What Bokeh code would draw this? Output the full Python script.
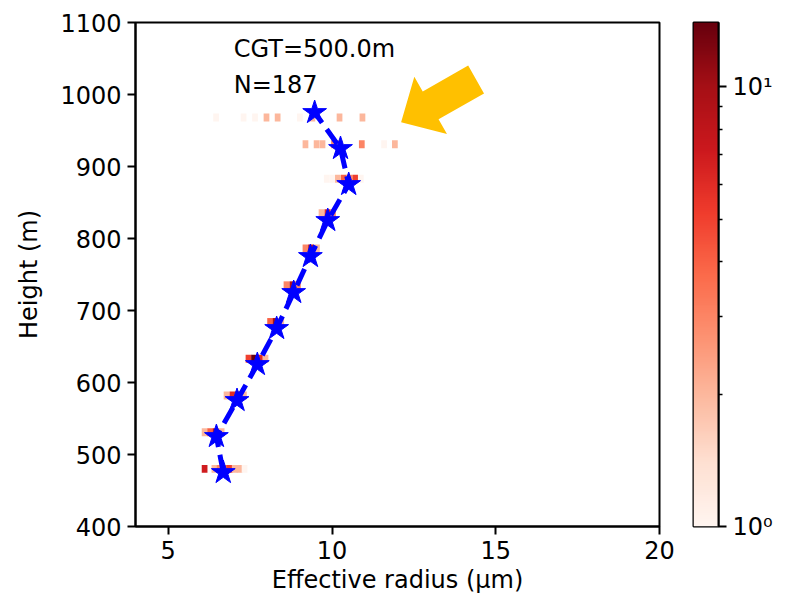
import numpy as np
from bokeh.plotting import figure
from bokeh.layouts import row
from bokeh.models import Range1d, LogColorMapper, FixedTicker, Label, ColumnDataSource
from bokeh.palettes import Reds256
from bokeh.embed import file_html
from bokeh.resources import INLINE

# ---------------- data ----------------
HEIGHTS = [475, 525, 575, 625, 675, 725, 775, 825, 875, 925, 975]
MEAN_RE = [6.68, 6.47, 7.10, 7.72, 8.31, 8.83, 9.34, 9.87, 10.51, 10.26, 9.47]

CELL_X = [
    6.46, 7.30, 7.65, 8.00, 8.34, 9.02, 9.40, 10.23, 10.93,
    9.19, 9.53, 9.71, 10.06, 10.23, 10.91, 11.59, 11.92,
    9.84, 10.01, 10.18, 10.36, 10.53, 10.71, 10.88,
    9.68, 9.86, 10.03,
    9.19, 9.36, 9.54,
    8.61, 8.79, 8.96,
    8.11, 8.28, 8.45,
    7.45, 7.62, 7.80, 7.97,
    6.78, 6.96, 7.13, 7.31,
    6.11, 6.28, 6.45, 6.63,
    6.11, 6.41, 6.57, 6.72, 6.88, 7.03, 7.18, 7.33,
]
CELL_Y = (
    [968] * 9 + [931] * 8 + [883] * 7 + [835] * 3 + [786] * 3 + [735] * 3
    + [684] * 3 + [633] * 4 + [582] * 4 + [531] * 4 + [480] * 8
)
CELL_N = [
    1, 1, 1, 2, 2, 1, 2, 2, 2,
    2, 2, 2, 3, 2, 3, 1, 2,
    1, 1, 2, 4, 3, 5, 1,
    2, 6, 3,
    3, 8, 2,
    3, 9, 3,
    4, 10, 2,
    5, 14, 6, 2,
    2, 6, 9, 2,
    2, 4, 8, 2,
    7, 2, 3, 4, 5, 2, 2, 1,
]
COUNT_RANGE = (1, 14)

X_TICKS = [5, 10, 15, 20]
Y_TICKS = [400, 500, 600, 700, 800, 900, 1000, 1100]
CB_TICKS = [1, 10]
CB_MINOR = [2, 3, 4, 5, 6, 7, 8, 9]
CB_LABELS = {1: "10\u2070", 10: "10\u00b9"}

CGT_TEXT = "CGT=500.0m"
N_TEXT = "N=187"
TEXT_X = 7
TEXT_Y = [1050, 1000]

# annotation arrow (data coords of tip / tail)
ARROW_TIP = (12.11, 961.5)
ARROW_TAIL = (14.40, 1020.8)

# ---------------- styling ----------------
FONT = "DejaVu Sans"
FS = "24px"
XR = (4, 20)
YR = (400, 1100)
FW, FH = 524, 504

pal = list(Reds256)
def _lum(h):
    return int(h[1:3], 16) + int(h[3:5], 16) + int(h[5:7], 16)
if _lum(pal[0]) < _lum(pal[-1]):
    pal = pal[::-1]
mapper = LogColorMapper(palette=pal, low=COUNT_RANGE[0], high=COUNT_RANGE[1])

p = figure(
    x_range=Range1d(*XR), y_range=Range1d(*YR),
    frame_width=FW, frame_height=FH,
    min_border_left=135, min_border_right=20, min_border_top=22, min_border_bottom=76,
    output_backend="svg", toolbar_location=None,
    x_axis_label="Effective radius (\u03bcm)", y_axis_label="Height (m)",
)
p.grid.visible = False
p.outline_line_color = "black"
p.outline_line_width = 2
p.background_fill_color = "white"
p.border_fill_color = "white"

for ax in (p.xaxis[0], p.yaxis[0]):
    ax.axis_line_color = "black"
    ax.axis_line_width = 2
    ax.major_tick_line_color = "black"
    ax.major_tick_line_width = 2
    ax.major_tick_out = 8
    ax.major_tick_in = 0
    ax.minor_tick_line_color = None
    ax.major_label_text_font = FONT
    ax.major_label_text_font_size = FS
    ax.major_label_text_color = "black"
    ax.axis_label_text_font = FONT
    ax.axis_label_text_font_size = FS
    ax.axis_label_text_font_style = "normal"
    ax.axis_label_text_color = "black"
    ax.major_label_standoff = 6

p.xaxis[0].ticker = FixedTicker(ticks=X_TICKS)
p.yaxis[0].ticker = FixedTicker(ticks=Y_TICKS)
p.xaxis[0].axis_label_standoff = 4
p.yaxis[0].axis_label_standoff = 14

# 2D histogram cells
src = ColumnDataSource(dict(x=CELL_X, y=CELL_Y, n=CELL_N))
p.rect(x="x", y="y", width=0.175, height=11, source=src,
       fill_color={"field": "n", "transform": mapper}, line_color=None)

# mean profile
p.line(MEAN_RE, HEIGHTS, line_color="blue", line_width=5, line_dash="18 8")
p.scatter(MEAN_RE, HEIGHTS, marker="star", size=25, fill_color="blue", line_color="blue")

# texts
for txt, yy in zip((CGT_TEXT, N_TEXT), TEXT_Y):
    p.add_layout(Label(x=TEXT_X, y=yy, y_offset=10, text=txt, text_font=FONT,
                       text_font_size=FS, text_baseline="alphabetic",
                       text_align="left", text_color="black"))

# arrow polygon
sx = FW / (XR[1] - XR[0])
sy = FH / (YR[1] - YR[0])
def to_px(x, y):
    return np.array([(x - XR[0]) * sx, (YR[1] - y) * sy])
def to_data(pt):
    return XR[0] + pt[0] / sx, YR[1] - pt[1] / sy
tip = to_px(*ARROW_TIP)
tail = to_px(*ARROW_TAIL)
u = (tail - tip) / np.linalg.norm(tail - tip)
nrm = np.array([-u[1], u[0]])
HEAD_LEN, HEAD_HALF, SHAFT_HALF = 34, 33, 16
base = tip + u * HEAD_LEN
pts = [tip, base + nrm * HEAD_HALF, base + nrm * SHAFT_HALF, tail + nrm * SHAFT_HALF,
       tail - nrm * SHAFT_HALF, base - nrm * SHAFT_HALF, base - nrm * HEAD_HALF]
dpts = [to_data(q) for q in pts]
p.patch([q[0] for q in dpts], [q[1] for q in dpts], fill_color="#FFC000", line_color=None)

# ---------------- colorbar ----------------
cb = figure(
    x_range=Range1d(0, 1), y_range=Range1d(*COUNT_RANGE), y_axis_type="log",
    y_axis_location="right",
    frame_width=25, frame_height=FH,
    min_border_left=14, min_border_right=68, min_border_top=22, min_border_bottom=76,
    output_backend="svg", toolbar_location=None,
)
cb.grid.visible = False
cb.xaxis.visible = False
cb.outline_line_color = "black"
cb.outline_line_width = 2
grad = 10 ** np.linspace(0, np.log10(COUNT_RANGE[1]), 256)
cb.image(image=[grad.reshape(256, 1)], x=0, y=COUNT_RANGE[0], dw=1,
         dh=COUNT_RANGE[1] - COUNT_RANGE[0], color_mapper=mapper)
ya = cb.yaxis[0]
ya.ticker = FixedTicker(ticks=CB_TICKS, minor_ticks=CB_MINOR)
ya.major_label_overrides = CB_LABELS
ya.axis_line_color = "black"
ya.axis_line_width = 2
ya.major_tick_line_color = "black"
ya.major_tick_line_width = 2
ya.major_tick_out = 8
ya.major_tick_in = 0
ya.minor_tick_line_color = "black"
ya.minor_tick_line_width = 1.5
ya.minor_tick_out = 4
ya.minor_tick_in = 0
ya.major_label_text_font = FONT
ya.major_label_text_font_size = FS
ya.major_label_text_color = "black"
ya.major_label_standoff = 6

layout = row(p, cb)
open("out.html", "w").write(file_html(layout, INLINE))
